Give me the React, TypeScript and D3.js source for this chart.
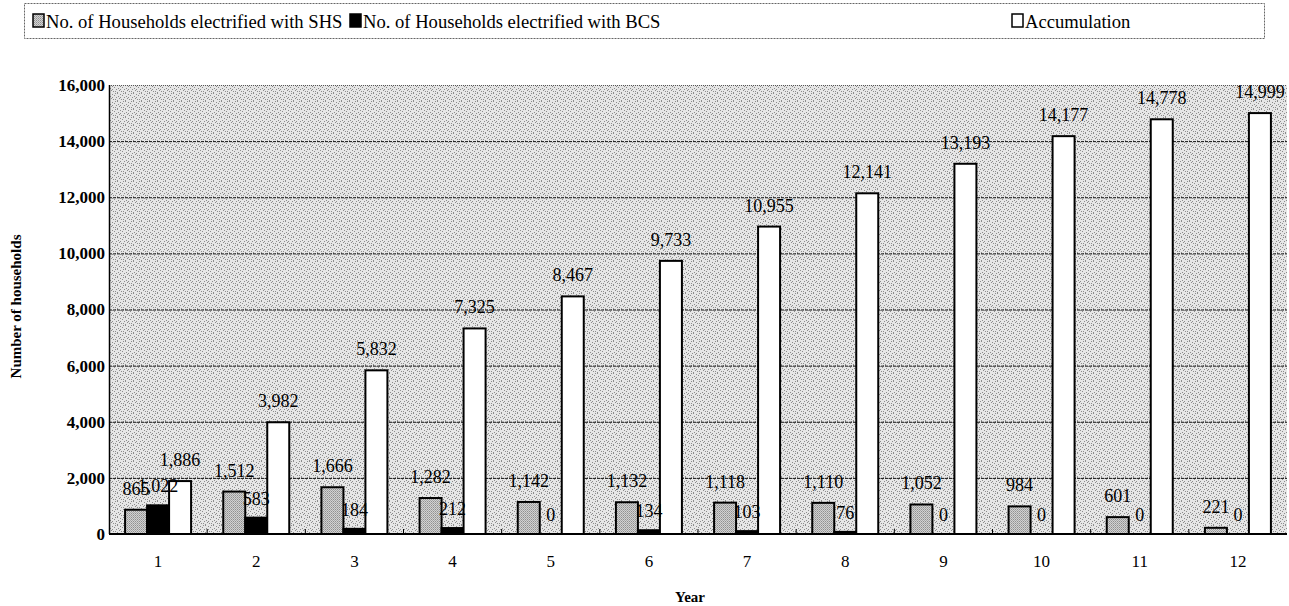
import React, { useEffect, useRef } from 'react';
import * as d3 from 'd3';

const years = ['1', '2', '3', '4', '5', '6', '7', '8', '9', '10', '11', '12'];
const shs = [865, 1512, 1666, 1282, 1142, 1132, 1118, 1110, 1052, 984, 601, 221];
const bcs = [1022, 583, 184, 212, 0, 134, 103, 76, 0, 0, 0, 0];
const accumulation = [1886, 3982, 5832, 7325, 8467, 9733, 10955, 12141, 13193, 14177, 14778, 14999];
const yTicks = [0, 2000, 4000, 6000, 8000, 10000, 12000, 14000, 16000];
const seriesNames = [
  'No. of Households electrified with SHS',
  'No. of Households electrified with BCS',
  'Accumulation',
];

const FONT = "'Liberation Serif', 'Times New Roman', Tinos, 'DejaVu Serif', serif";

const App: React.FC = () => {
  const ref = useRef<SVGSVGElement | null>(null);

  useEffect(() => {
    if (!ref.current) return;
    const svg = d3.select(ref.current);
    svg.selectAll('*').remove();

    const W = 1289;
    const H = 606;
    const margin = { top: 85, right: 2, bottom: 72, left: 109 };
    const width = W - margin.left - margin.right;
    const height = H - margin.top - margin.bottom;

    // stipple patterns for the plot background and the SHS bars
    const defs = svg.append('defs');
    const bg = defs
      .append('pattern')
      .attr('id', 'bgdots')
      .attr('width', 8)
      .attr('height', 8)
      .attr('patternUnits', 'userSpaceOnUse');
    bg.append('rect').attr('width', 8).attr('height', 8).attr('fill', '#e6e6e6');
    [[0, 0], [3, 1], [6, 0], [1, 3], [5, 2], [7, 4], [2, 5], [4, 6], [0, 7], [6, 6], [3, 4]].forEach(([px, py]) =>
      bg.append('rect').attr('x', px).attr('y', py).attr('width', 1).attr('height', 1).attr('fill', '#8c8c8c')
    );
    const sh = defs
      .append('pattern')
      .attr('id', 'shsdots')
      .attr('width', 2)
      .attr('height', 2)
      .attr('patternUnits', 'userSpaceOnUse');
    sh.append('rect').attr('width', 2).attr('height', 2).attr('fill', '#d2d2d2');
    sh.append('rect').attr('x', 0).attr('y', 0).attr('width', 1).attr('height', 1).attr('fill', '#909090');
    sh.append('rect').attr('x', 1).attr('y', 1).attr('width', 1).attr('height', 1).attr('fill', '#a8a8a8');

    const fills = ['url(#shsdots)', '#000', '#fff'];
    const series = [shs, bcs, accumulation];

    const x = d3.scaleBand().domain(years).range([0, width]).paddingInner(0).paddingOuter(0);
    const barW = 22;
    const y = d3.scaleLinear().domain([0, 16000]).range([height, 0]);

    const g = svg.append('g').attr('transform', `translate(${margin.left},${margin.top})`);

    g.append('rect').attr('width', width).attr('height', height).attr('fill', 'url(#bgdots)');

    // gridlines
    g.selectAll('.grid')
      .data(yTicks.filter((t) => t > 0))
      .enter()
      .append('line')
      .attr('x1', 0)
      .attr('x2', width)
      .attr('y1', (d) => y(d) + 0.5)
      .attr('y2', (d) => y(d) + 0.5)
      .attr('stroke', (d) => (d === 16000 ? '#555' : '#111'))
      .attr('stroke-width', 1)
      .attr('stroke-dasharray', (d) => (d === 16000 ? '1,1' : '3,1'));

    // bars
    series.forEach((vals, si) => {
      g.selectAll(`.bar${si}`)
        .data(vals)
        .enter()
        .append('rect')
        .attr('x', (_, i) => x(years[i])! + x.bandwidth() / 2 - 1.5 * barW + si * barW)
        .attr('y', (d) => y(d))
        .attr('width', barW)
        .attr('height', (d) => height - y(d))
        .attr('fill', fills[si])
        .attr('stroke', '#000')
        .attr('stroke-width', 2);
    });

    // value labels
    series.forEach((vals, si) => {
      g.selectAll(`.lbl${si}`)
        .data(vals)
        .enter()
        .append('text')
        .attr('x', (_, i) => x(years[i])! + x.bandwidth() / 2 - barW + si * barW)
        .attr('y', (d) => y(d) - (si === 1 ? 13 : 15))
        .attr('text-anchor', 'middle')
        .style('font-family', FONT)
        .attr('font-size', 18)
        .attr('fill', '#000')
        .text((d) => d3.format(',')(d));
    });

    // axes
    const yAxis = g
      .append('g')
      .call(d3.axisLeft(y).tickValues(yTicks).tickSize(0).tickPadding(4).tickFormat(d3.format(',') as any));
    yAxis.select('.domain').remove();
    yAxis.selectAll('text').style('font-family', FONT).attr('font-size', 17).attr('font-weight', 'bold').attr('fill', '#000');
    g.append('line').attr('x1', 0.5).attr('x2', 0.5).attr('y1', 0).attr('y2', height).attr('stroke', '#000').attr('stroke-width', 1.5);

    const xAxis = g
      .append('g')
      .attr('transform', `translate(0,${height})`)
      .call(d3.axisBottom(x).tickSize(0).tickPadding(21));
    xAxis.select('.domain').remove();
    xAxis.selectAll('text').style('font-family', FONT).attr('font-size', 17).attr('fill', '#000');
    g.append('line').attr('x1', 0).attr('x2', width).attr('y1', height).attr('y2', height).attr('stroke', '#000').attr('stroke-width', 2);
    g.selectAll('.xtick')
      .data(years.slice(1))
      .enter()
      .append('line')
      .attr('x1', (d) => x(d)!)
      .attr('x2', (d) => x(d)!)
      .attr('y1', height)
      .attr('y2', height - 5)
      .attr('stroke', '#000');

    // axis titles
    svg
      .append('text')
      .attr('transform', `translate(21,${margin.top + height / 2 - 3}) rotate(-90)`)
      .attr('text-anchor', 'middle')
      .style('font-family', FONT)
      .attr('font-size', 15)
      .attr('font-weight', 'bold')
      .text('Number of households');
    svg
      .append('text')
      .attr('x', margin.left + width / 2 - 8)
      .attr('y', 602)
      .attr('text-anchor', 'middle')
      .style('font-family', FONT)
      .attr('font-size', 15)
      .attr('font-weight', 'bold')
      .text('Year');

    // legend
    const lg = svg.append('g');
    lg.append('rect')
      .attr('x', 24.5)
      .attr('y', 3.5)
      .attr('width', 1240)
      .attr('height', 35)
      .attr('fill', '#fff')
      .attr('stroke', '#666')
      .attr('stroke-width', 1)
      .attr('stroke-dasharray', '2,1');
    const legendX = [33, 350, 1012];
    seriesNames.forEach((name, i) => {
      lg.append('rect')
        .attr('x', legendX[i])
        .attr('y', 14)
        .attr('width', 11)
        .attr('height', 13)
        .attr('fill', fills[i])
        .attr('stroke', '#000')
        .attr('stroke-width', 1.5);
      lg.append('text')
        .attr('x', legendX[i] + 13)
        .attr('y', 28)
        .style('font-family', FONT)
        .attr('font-size', 18.6)
        .attr('fill', '#000')
        .text(name);
    });
  }, []);

  return (
    <svg
      ref={ref}
      width={1289}
      height={606}
      style={{ position: 'absolute', left: 0, top: 0, background: '#fff' }}
    ></svg>
  );
};

export default App;
